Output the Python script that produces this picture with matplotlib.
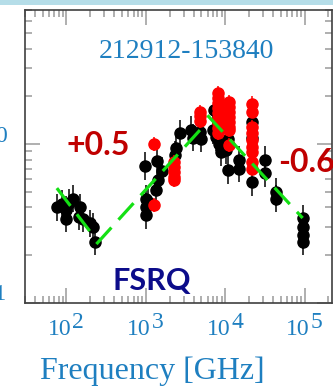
import numpy as np
import matplotlib
matplotlib.use("Agg")
import matplotlib.pyplot as plt
from matplotlib.patches import Rectangle
from matplotlib.ticker import LogLocator, NullFormatter, FixedLocator

plt.rcParams['font.family'] = ['Liberation Serif', 'DejaVu Serif']

# ---- data: frequency [GHz] and flux ----
black_freq = [75, 88, 98, 100, 108, 121, 144, 147, 162, 196, 216, 227,
              966, 994, 994, 1014, 1050, 1355, 1380, 1419, 1614,
              2303, 2371, 2700,
              3733, 3900, 4750, 4960, 7000, 7330, 7710, 8470, 8900,
              10300, 10800, 10800, 15140, 15140,
              21880, 21880, 21880, 32150, 32150, 43800, 43800,
              94700, 94700, 94700, 94700]
black_flux = [0.40, 0.42, 0.34, 0.385, 0.425, 0.455, 0.35, 0.40, 0.34, 0.317, 0.302, 0.243,
              0.727, 0.455, 0.403, 0.357, 0.43, 0.514, 0.785, 0.594, 0.676,
              0.853, 0.94, 1.17,
              1.225, 1.10, 1.20, 1.086, 1.225, 1.64, 1.111, 1.01, 0.895,
              0.917, 1.086, 0.686, 0.793, 0.703,
              1.381, 1.10, 0.579, 0.793, 0.660, 0.501, 0.455,
              0.341, 0.302, 0.268, 0.243]

red_freq = [1253, 1253,
            2254, 2254, 2254, 2254, 2254,
            4750, 4750, 4750,
            8070, 8070, 8070, 8070, 8070, 8070, 8070, 8070, 8070,
            11320, 11320, 11320, 11320, 11320, 11320, 11320, 11320,
            21880, 21880, 21880, 21880, 21880, 21880, 21880, 21880, 21880]
red_flux = [1.0, 0.413,
            0.77, 0.717, 0.667, 0.620, 0.594,
            1.59, 1.50, 1.39,
            2.09, 1.95, 1.81, 1.68, 1.57, 1.46, 1.36, 1.26, 1.17,
            1.84, 1.71, 1.59, 1.48, 1.37, 1.28, 1.22, 0.986,
            1.803, 1.596, 1.285, 1.168, 1.06, 0.962, 0.895, 0.774, 0.703]

# piecewise power-law fits
fit1_freq = [75.6, 196]
fit1_flux = [0.529, 0.284]
fit2_freq = [238, 5190]
fit2_flux = [0.235, 1.28]
fit3_freq = [5980, 94600]
fit3_flux = [1.52, 0.343]

ERR_FACTOR = 1.22   # multiplicative flux uncertainty

x_major = [1e2, 1e3, 1e4, 1e5]
y_major = [0.1, 1.0]

source_name = "212912-153840"
x_title = "Frequency [GHz]"
slope_rise = "+0.5"
slope_fall = "-0.6"
source_class = "FSRQ"

W, H = 333, 390
PX = 72 / 100  # points per pixel
fig = plt.figure(figsize=(W / 100, H / 100), dpi=100)
fig.patches.append(Rectangle((0, 1 - 5 / H), 1, 5 / H, transform=fig.transFigure,
                             facecolor='#b5dde8', edgecolor='none'))

ax = fig.add_axes([25 / W, 1 - 303 / H, (331.7 - 25) / W, (303 - 10) / H])
ax.set_xscale('log')
ax.set_yscale('log')
ax.set_xlim(30, 2.2e5)
ax.set_ylim(0.1, 7)


def errs(flux):
    f = np.asarray(flux)
    return np.vstack([f - f / ERR_FACTOR, f * ERR_FACTOR - f])


ax.errorbar(black_freq, black_flux, yerr=errs(black_flux), fmt='o', color='black',
            ms=8, elinewidth=1.1, capsize=0, zorder=3)
ax.errorbar(red_freq, red_flux, yerr=errs(red_flux) * 0.5, fmt='o', color='#ff0000',
            ms=8, elinewidth=1.1, capsize=0, zorder=4)

green = '#14e014'
for fx, fy in [(fit1_freq, fit1_flux), (fit2_freq, fit2_flux), (fit3_freq, fit3_flux)]:
    ax.plot(fx, fy, color=green, lw=2.3, dashes=(7.0, 3.3),
            dash_capstyle='butt', zorder=5)

# axes styling
for sp in ax.spines.values():
    sp.set_color('#404040')
    sp.set_linewidth(1.2)
ax.xaxis.set_major_locator(FixedLocator(x_major))
ax.yaxis.set_major_locator(FixedLocator(y_major))
ax.xaxis.set_minor_locator(LogLocator(base=10, subs=np.arange(2, 10), numticks=20))
ax.yaxis.set_minor_locator(LogLocator(base=10, subs=np.arange(2, 10), numticks=20))
ax.xaxis.set_major_formatter(NullFormatter())
ax.yaxis.set_major_formatter(NullFormatter())
ax.xaxis.set_minor_formatter(NullFormatter())
ax.yaxis.set_minor_formatter(NullFormatter())
ax.tick_params(which='both', direction='in', top=True, right=True, color='#9a9a9a', width=1.1)
ax.tick_params(which='major', length=10.5)
ax.tick_params(which='minor', length=5)

blue = '#1e7fc0'
TICK_FS = 17


def power_text(e):
    return str(e).replace('-', '\u2212')


# x tick labels: "10" with a raised, full-size exponent
for v in x_major:
    e = int(round(np.log10(v)))
    ax.annotate("10", xy=(v, 0), xycoords=('data', 'axes fraction'),
                xytext=(5 * PX, -32 * PX), textcoords='offset points',
                ha='right', va='baseline', fontsize=TICK_FS, color=blue)
    ax.annotate(power_text(e), xy=(v, 0), xycoords=('data', 'axes fraction'),
                xytext=(6 * PX, -25 * PX), textcoords='offset points',
                ha='left', va='baseline', fontsize=TICK_FS, color=blue)

# y tick labels, right-aligned against the left spine
for v in y_major:
    e = int(round(np.log10(v)))
    exp_t = ax.annotate(power_text(e), xy=(0, v), xycoords=('axes fraction', 'data'),
                        xytext=(-18 * PX, 2.5 * PX), textcoords='offset points',
                        ha='right', va='baseline', fontsize=TICK_FS, color=blue)
    ax.annotate("10", xy=(0, 0), xycoords=exp_t,
                xytext=(-1 * PX, -7 * PX), textcoords='offset points',
                ha='right', va='bottom', fontsize=TICK_FS, color=blue)

fig.text(152 / W, 11 / H, x_title, color=blue, fontsize=23,
         ha='center', va='baseline')
fig.text(186 / W, 1 - 58 / H, source_name, color=blue, fontsize=20,
         ha='center', va='baseline')

sans = ['Lato', 'DejaVu Sans']
fig.text(67 / W, 1 - 155 / H, slope_rise, color='#c00000', fontsize=23,
         fontweight='bold', family=sans, ha='left', va='baseline')
fig.text(278 / W, 1 - 171.5 / H, slope_fall, color='#c00000', fontsize=23,
         fontweight='bold', family=sans, ha='left', va='baseline')
fig.text(112 / W, 1 - 290 / H, source_class, color='#0c0c8a', fontsize=22,
         fontweight='bold', family=sans, ha='left', va='baseline')

fig.savefig('out.png', dpi=100)
